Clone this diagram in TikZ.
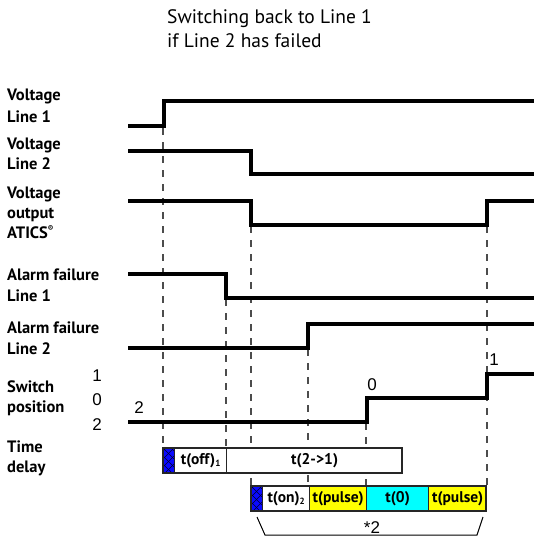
\documentclass[tikz,border=0pt]{standalone}
\usepackage{fontspec}
\setmainfont{PT Sans}
\newfontfamily\numfont{Liberation Sans}
\definecolor{myblue}{RGB}{10,10,255}
\definecolor{mycyan}{RGB}{0,255,255}
\definecolor{myyellow}{RGB}{255,255,0}
\begin{document}
\begin{tikzpicture}[x=1pt,y=-1pt,
  wave/.style={line width=3.3pt, line join=miter},
  guide/.style={draw=black!70, line width=1.1pt, dash pattern=on 7pt off 7pt},
  lbl/.style={anchor=base west, inner sep=0pt, font=\fontsize{16.5}{18}\selectfont\bfseries},
  ttl/.style={anchor=base west, inner sep=0pt, font=\fontsize{19.5}{22}\selectfont},
  num/.style={anchor=base, inner sep=0pt, font=\fontsize{17}{20}\selectfont\numfont},
  seg/.style={draw=black!85, line width=1.3pt, inner sep=0pt, minimum height=25pt, anchor=north west, font=\fontsize{15.5}{17}\selectfont\bfseries},
  hatch/.style={draw=black!80!blue, line width=0.5pt}
]
\useasboundingbox[fill=white] (0,0) rectangle (534,536);

% title
\node[ttl] (t1) at (167,23) {Switching back to Line 1};
\node[ttl] (t2) at (167,47) {if Line 2 has failed};

% left labels
\node[lbl] (a1) at (7,100) {Voltage};
\node[lbl] (a2) at (7,122) {Line 1};
\node[lbl] (b1) at (7,149) {Voltage};
\node[lbl] (b2) at (7,169) {Line 2};
\node[lbl] (c1) at (7,198) {Voltage};
\node[lbl] (c2) at (7,218) {output};
\node[lbl] (c3) at (7,238) {ATICS\textsuperscript{\fontsize{8}{9}\selectfont\textregistered}};
\node[lbl] (d1) at (7,280) {Alarm failure};
\node[lbl] (d2) at (7,301) {Line 1};
\node[lbl] (e1) at (7,333) {Alarm failure};
\node[lbl] (e2) at (7,354) {Line 2};
\node[lbl] (f1) at (7,392) {Switch};
\node[lbl] (f2) at (7,412) {position};
\node[lbl] (g1) at (7,452) {Time};
\node[lbl] (g2) at (7,472) {delay};

% switch position numbers
\node[num] (n1) at (97,381) {1};
\node[num] (n0) at (97,405) {0};
\node[num] (n2) at (97,430) {2};
\node[num] (s2) at (139,413) {2};
\node[num] (s0) at (372,390) {0};
\node[num] (s1) at (494,365) {1};

% guide coordinates
\coordinate (g163a) at (163,128); \coordinate (g163b) at (163,448);
\coordinate (g226a) at (226,299); \coordinate (g226b) at (226,448);
\coordinate (g251a) at (251,226); \coordinate (g251b) at (251,486);
\coordinate (g308a) at (308,349); \coordinate (g308b) at (308,486);
\coordinate (g366a) at (366,423); \coordinate (g366b) at (366,486);
\coordinate (g487a) at (487,226); \coordinate (g487b) at (487,486);
\foreach \g in {163,226,251,308,366,487} \draw[guide] (g\g a) -- (g\g b);

% waveforms
\draw[wave] (128,126) -- (164,126) -- (164,101) -- (534,101);
\draw[wave] (128,151) -- (251,151) -- (251,174) -- (534,174);
\draw[wave] (128,201) -- (251,201) -- (251,225) -- (487,225) -- (487,201) -- (534,201);
\draw[wave] (128,274) -- (226,274) -- (226,298) -- (534,298);
\draw[wave] (128,348) -- (308,348) -- (308,324) -- (534,324);
\draw[wave] (128,422) -- (367,422) -- (367,398) -- (487,398) -- (487,374) -- (534,374);

% time delay row 1
\node[seg, fill=myblue, minimum width=11pt] (h1) at (163,448) {};
\begin{scope}
\clip (163,448) rectangle (174,473);
\foreach \k in {-16,-8,...,32} {
  \draw[hatch] (163,448+\k) -- (174,459+\k);
  \draw[hatch] (174,448+\k) -- (163,459+\k);
}
\end{scope}
\node[seg, fill=white, minimum width=52pt] (off1) at (174,448) {t(off)\raisebox{-2pt}{\fontsize{9}{10}\selectfont 1}};
\node[seg, fill=white, minimum width=176pt] (t21) at (226,448) {t(2->1)};
\draw[draw=black!85, line width=1.3pt] (163,448) rectangle (402,473);

% time delay row 2
\node[seg, fill=myblue, minimum width=11pt] (h2) at (251,486) {};
\begin{scope}
\clip (251,486) rectangle (262,511);
\foreach \k in {-16,-8,...,32} {
  \draw[hatch] (251,486+\k) -- (262,497+\k);
  \draw[hatch] (262,486+\k) -- (251,497+\k);
}
\end{scope}
\node[seg, fill=white, minimum width=47pt] (on2) at (262,486) {t(on)\raisebox{-2pt}{\fontsize{9}{10}\selectfont 2}};
\node[seg, fill=myyellow, minimum width=57pt] (p1) at (309,486) {t(pulse)};
\node[seg, fill=mycyan, minimum width=62pt] (z0) at (366,486) {t(0)};
\node[seg, fill=myyellow, minimum width=58pt] (p2) at (428,486) {t(pulse)};
\draw[draw=black!85, line width=1.3pt] (251,486) rectangle (486,511);

% bracket
\coordinate (bl) at (257,517); \coordinate (br) at (483,517);
\draw[line width=1pt] (bl) -- (265,535) -- (477,535) -- (br);
\node[num] (x2) at (372,533) {*2};
\end{tikzpicture}
\end{document}
